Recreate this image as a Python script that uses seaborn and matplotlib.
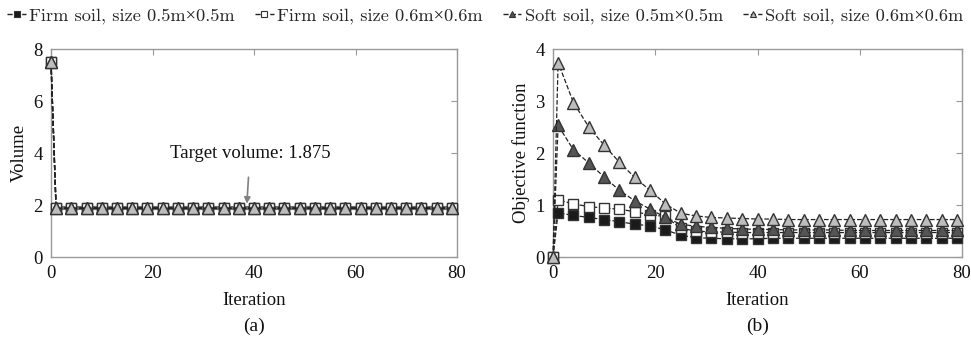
import matplotlib
matplotlib.use("Agg")
import matplotlib.pyplot as plt
import seaborn as sns
from matplotlib.lines import Line2D

sns.set_style("white")
plt.rcParams['font.family'] = ['Liberation Serif', 'DejaVu Serif']

# ---- data ----
iterations = [0, 1, 4, 7, 10, 13, 16, 19, 22, 25, 28, 31, 34, 37, 40, 43, 46,
              49, 52, 55, 58, 61, 64, 67, 70, 73, 76, 79]

series_names = ["Firm soil, size 0.5m\u00d70.5m", "Firm soil, size 0.6m\u00d70.6m",
                "Soft soil, size 0.5m\u00d70.5m", "Soft soil, size 0.6m\u00d70.6m"]

target_volume = 1.875
vol_firm05 = [7.5] + [1.875] * 27
vol_firm06 = [7.5] + [1.875] * 27
vol_soft05 = [7.5] + [1.875] * 27
vol_soft06 = [7.5] + [1.875] * 27

obj_firm05 = [0, 0.85, 0.80, 0.76, 0.72, 0.68, 0.63, 0.60, 0.52, 0.42, 0.37, 0.36, 0.35, 0.35,
              0.35, 0.36, 0.36, 0.36, 0.36, 0.36, 0.36, 0.36, 0.36, 0.36, 0.36, 0.36, 0.36, 0.36]
obj_firm06 = [0, 1.10, 1.02, 0.97, 0.94, 0.92, 0.87, 0.81, 0.78, 0.55, 0.50, 0.48, 0.48, 0.47,
              0.47, 0.47, 0.47, 0.47, 0.47, 0.47, 0.47, 0.47, 0.47, 0.47, 0.47, 0.47, 0.47, 0.47]
obj_soft05 = [0, 2.53, 2.06, 1.81, 1.54, 1.28, 1.08, 0.92, 0.76, 0.63, 0.59, 0.57, 0.55, 0.54,
              0.53, 0.53, 0.52, 0.52, 0.52, 0.52, 0.51, 0.51, 0.51, 0.51, 0.51, 0.51, 0.51, 0.51]
obj_soft06 = [0, 3.74, 2.97, 2.50, 2.15, 1.82, 1.53, 1.28, 1.02, 0.84, 0.79, 0.76, 0.75, 0.74,
              0.73, 0.73, 0.72, 0.72, 0.72, 0.72, 0.72, 0.72, 0.72, 0.72, 0.72, 0.72, 0.72, 0.72]

# ---- styles ----
styles = [
    dict(marker='s', markersize=6.8, markerfacecolor='#1a1a1a', markeredgecolor='#333333'),
    dict(marker='s', markersize=6.8, markerfacecolor='white', markeredgecolor='#333333'),
    dict(marker='^', markersize=8.3, markerfacecolor='#555555', markeredgecolor='#333333'),
    dict(marker='^', markersize=8.3, markerfacecolor='#bdbdbd', markeredgecolor='#333333'),
]

fig = plt.figure(figsize=(9.71, 3.43), dpi=100)
axa = fig.add_axes([51 / 971, 86 / 343, 406 / 971, 208 / 343])
axb = fig.add_axes([553 / 971, 86 / 343, 409 / 971, 208 / 343])

# panel (a)
axa.axhline(target_volume, color='#6e6e6e', lw=3, zorder=1)
for vals, st in zip([vol_firm05, vol_firm06, vol_soft05, vol_soft06], styles):
    sns.lineplot(x=iterations, y=vals, ax=axa, color='#222222', linestyle='--', lw=1.0,
                 markeredgewidth=1.0, legend=False, zorder=3, clip_on=False, **st)

axa.annotate("Target volume: 1.875", xy=(38.6, 2.05), xytext=(39.2, 4.0),
             ha='center', va='center', fontsize=13.5, color='#111111',
             arrowprops=dict(arrowstyle='-|>', color='#808080', lw=1.2,
                             shrinkA=9, shrinkB=0, mutation_scale=9))

# panel (b)
for vals, st in zip([obj_firm05, obj_firm06, obj_soft05, obj_soft06], styles):
    sns.lineplot(x=iterations, y=vals, ax=axb, color='#222222', linestyle='--', lw=0.9,
                 markeredgewidth=1.0, legend=False, zorder=3, clip_on=False, **st)

for ax, ylim, yticks, ylabel, tag in [
        (axa, (0, 8), [0, 2, 4, 6, 8], "Volume", "(a)"),
        (axb, (0, 4), [0, 1, 2, 3, 4], "Objective function", "(b)")]:
    ax.set_xlim(0, 80)
    ax.set_ylim(*ylim)
    ax.set_xticks([0, 20, 40, 60, 80])
    ax.set_yticks(yticks)
    ax.set_xlabel("Iteration", fontsize=13.5, color='#111111', labelpad=7)
    ax.set_ylabel(ylabel, fontsize=13.5, color='#111111', labelpad=4)
    ax.tick_params(direction='in', length=4, width=0.8, color='#999999',
                   top=True, right=True, labelsize=13.5, labelcolor='#111111', pad=6)
    for sp in ax.spines.values():
        sp.set_color('#999999')
        sp.set_linewidth(1.0)
        sp.set_visible(True)
        sp.set_zorder(2)
    ax.set_facecolor('white')
    ax.text(0.5, -0.29, tag, transform=ax.transAxes, ha='center', va='top',
            fontsize=14, color='#111111')

# legend across the top
handles = [Line2D([0], [0], color='#222222', linestyle='--', lw=1.0,
                  markeredgewidth=0.8, **dict(st, markersize=st['markersize'] * 0.6))
           for st in styles]
leg = fig.legend(handles, series_names, loc='upper center', bbox_to_anchor=(0.5, 1.025),
                 ncol=4, frameon=False, handlelength=1.0, handletextpad=0.2,
                 columnspacing=1.1, prop={'family': ['cmr10', 'Liberation Serif'], 'size': 13.2})

fig.savefig("out.png", dpi=100, facecolor='white')
